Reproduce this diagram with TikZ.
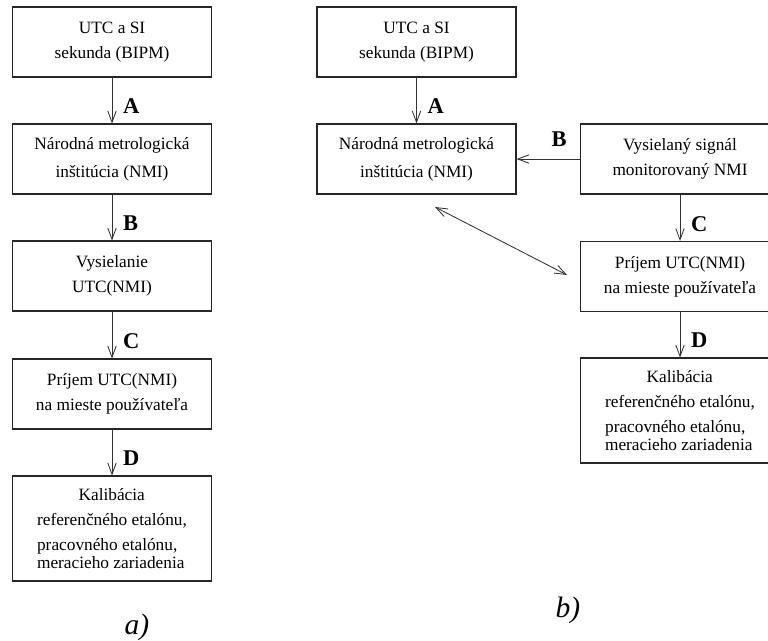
\documentclass[tikz,border=0pt]{standalone}
\usepackage{fontspec}
\setmainfont{Liberation Serif}
\usetikzlibrary{arrows.meta}

\tikzset{
  box/.style={draw=black!85, line width=0.8pt, rectangle, inner sep=0pt,
    minimum width=4.975cm, minimum height=1.75cm, align=center,
    font=\fontsize{12.3}{17.8}\selectfont},
  tallbox/.style={box, minimum height=2.625cm, align=left},
  arr/.style={draw=black!80, line width=0.6pt, -{Straight Barb[length=8pt,width=6pt]}},
  arrboth/.style={draw=black!80, line width=0.6pt,
    {Straight Barb[length=8pt,width=6pt]}-{Straight Barb[length=8pt,width=6pt]}},
  lbl/.style={font=\fontsize{16}{16}\selectfont\bfseries, inner sep=0pt,
    anchor=west, xshift=0.27cm, pos=0.63},
  capt/.style={font=\fontsize{21}{21}\selectfont\itshape, inner sep=0pt}
}

\begin{document}
\begin{tikzpicture}[x=0.025cm, y=-0.025cm]
  \useasboundingbox (0,0) rectangle (768,640);

  % a) chain
  \node[box] (l1) at (112,42) {UTC a SI\\sekunda (BIPM)};
  \node[box] (l2) at (112,159) {Národná metrologická\\[2pt]inštitúcia (NMI)};
  \node[box] (l3) at (112,276) {Vysielanie\\UTC(NMI)};
  \node[box] (l4) at (112,394) {Príjem UTC(NMI)\\na mieste používateľa};
  \node[tallbox] (l5) at (112,528.5) {\hspace*{2.4em}Kalibácia\\referenčného etalónu,\\pracovného etalónu,\\[-5.5pt]meracieho zariadenia};

  \foreach \a/\b/\t in {l1/l2/A, l2/l3/B, l3/l4/C, l4/l5/D}
    \draw[arr] (\a) -- node[lbl] {\t} (\b);

  % b) chain
  \node[box] (r1) at (416.5,42) {UTC a SI\\sekunda (BIPM)};
  \node[box] (r2) at (416.5,159) {Národná metrologická\\[2pt]inštitúcia (NMI)};
  \node[box] (r3) at (680,159) {Vysielaný signál\\monitorovaný NMI};
  \node[box] (r4) at (680,276.5) {Príjem UTC(NMI)\\na mieste používateľa};
  \node[tallbox] (r5) at (680,410.5) {\hspace*{2.4em}Kalibácia\\referenčného etalónu,\\pracovného etalónu,\\[-5.5pt]meracieho zariadenia};

  \draw[arr] (r1) -- node[lbl] {A} (r2);
  \draw[arr] (r3) -- node[lbl, anchor=south, xshift=0pt, pos=0.5, yshift=0.3cm] {B} (r2);
  \draw[arr] (r3) -- node[lbl] {C} (r4);
  \draw[arr] (r4) -- node[lbl] {D} (r5);

  \coordinate (dg1) at (435,207);
  \coordinate (dg2) at (567,275);
  \draw[arrboth] (dg1) -- (dg2);

  \node[capt] (capa) at (137,627) {a)};
  \node[capt] (capb) at (568,610) {b)};
\end{tikzpicture}
\end{document}
